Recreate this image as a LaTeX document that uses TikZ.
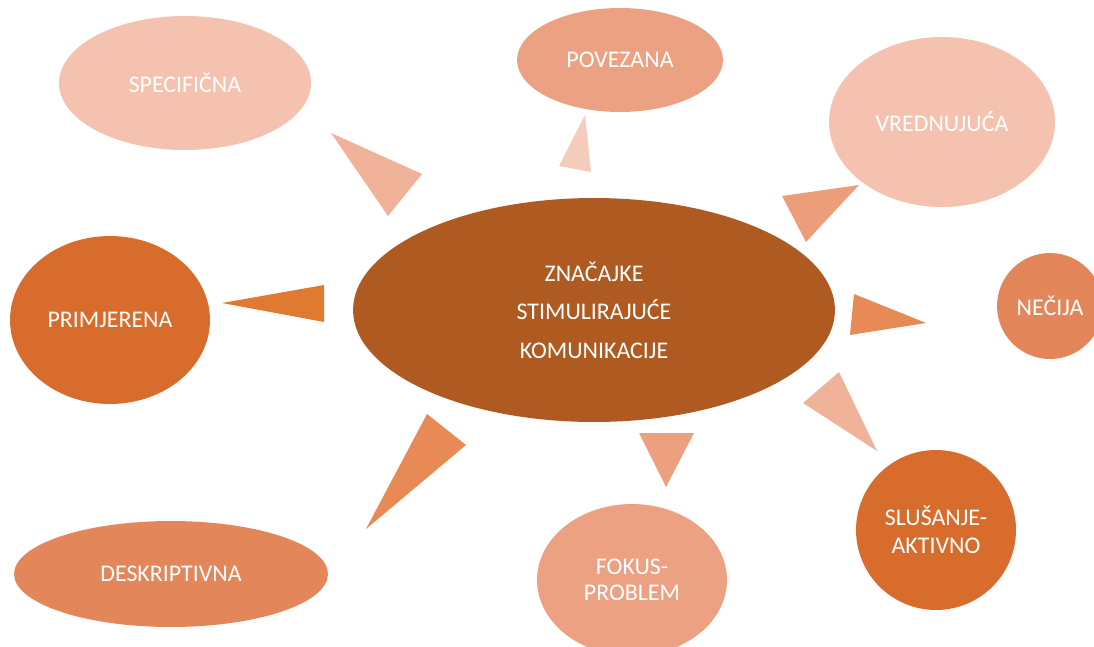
\documentclass[tikz,border=0pt]{standalone}
\usepackage{fontspec}
\setmainfont{Carlito}
\usetikzlibrary{shapes.geometric}
\definecolor{cPeach}{HTML}{F4C2AE}
\definecolor{cSalmon}{HTML}{ECA182}
\definecolor{cOrange}{HTML}{D86C2C}
\definecolor{cMid}{HTML}{E3875A}
\definecolor{cCenter}{HTML}{AE5A21}
\definecolor{tSpec}{HTML}{F0B39A}
\definecolor{tPov}{HTML}{F5CBBB}
\definecolor{tVred}{HTML}{EC9E7A}
\definecolor{tNec}{HTML}{E88A55}
\definecolor{tSlu}{HTML}{F0B39A}
\definecolor{tPrim}{HTML}{E07A30}
\definecolor{tDesk}{HTML}{E88A55}
\definecolor{tFok}{HTML}{ECA07D}
\tikzset{
  bubble/.style={ellipse, inner sep=0pt, text=white, font=\fontsize{13.6}{15.5}\selectfont, align=center},
  roundbubble/.style={circle, inner sep=0pt, text=white, font=\fontsize{13.6}{15.5}\selectfont, align=center}
}
\begin{document}
\begin{tikzpicture}[x=0.02cm,y=-0.02cm]
\useasboundingbox (0,0) rectangle (1094,646);
\clip (0,0) rectangle (1094,646);
% center
\node[bubble, fill=cCenter, minimum width=9.64cm, minimum height=4.48cm,
  font=\fontsize{13.6}{21.8}\selectfont] (center) at (594,310) {ZNAČAJKE\\STIMULIRAJUĆE\\KOMUNIKACIJE};
% outer bubbles
\node[bubble, fill=cPeach, minimum width=5.04cm, minimum height=2.68cm] (spec) at (185,83) {SPECIFIČNA};
\node[bubble, fill=cSalmon, minimum width=4.12cm, minimum height=2.08cm] (pov) at (620,60) {POVEZANA};
\node[bubble, fill=cPeach, minimum width=4.52cm, minimum height=3.40cm] (vred) at (942,122) {VREDNUJUĆA};
\node[bubble, fill=cOrange, minimum width=4.00cm, minimum height=3.36cm] (prim) at (110,320) {PRIMJERENA};
\node[roundbubble, fill=cMid, minimum size=2.12cm] (nec) at (1050,306) {NEČIJA};
\node[roundbubble, fill=cOrange, minimum size=3.20cm, font=\fontsize{13.6}{15.7}\selectfont] (slu) at (936,530) {SLUŠANJE-\\AKTIVNO};
\node[bubble, fill=cSalmon, minimum width=3.80cm, minimum height=3.04cm, font=\fontsize{13.6}{15}\selectfont] (fok) at (632,580) {FOKUS-\\PROBLEM};
\node[bubble, fill=cMid, minimum width=6.28cm, minimum height=2.12cm] (desk) at (171,574) {DESKRIPTIVNA};
% triangles
\coordinate (s1) at (331,133); \coordinate (s2) at (422,174); \coordinate (s3) at (388,216);
\fill[tSpec] (s1) -- (s2) -- (s3) -- cycle;
\coordinate (p1) at (585,115); \coordinate (p2) at (559,166); \coordinate (p3) at (591,172);
\fill[tPov] (p1) -- (p2) -- (p3) -- cycle;
\coordinate (v1) at (782,196); \coordinate (v2) at (859,185); \coordinate (v3) at (806,242);
\fill[tVred] (v1) -- (v2) -- (v3) -- cycle;
\coordinate (n1) at (854,294); \coordinate (n2) at (926,323); \coordinate (n3) at (850,335);
\fill[tNec] (n1) -- (n2) -- (n3) -- cycle;
\coordinate (l1) at (839,372); \coordinate (l2) at (803,403); \coordinate (l3) at (877,451);
\fill[tSlu] (l1) -- (l2) -- (l3) -- cycle;
\coordinate (r1) at (222,303); \coordinate (r2) at (324,285); \coordinate (r3) at (324,322);
\fill[tPrim] (r1) -- (r2) -- (r3) -- cycle;
\coordinate (d1) at (427,414); \coordinate (d2) at (466,445); \coordinate (d3) at (366,529);
\fill[tDesk] (d1) -- (d2) -- (d3) -- cycle;
\coordinate (f1) at (639,433); \coordinate (f2) at (694,433); \coordinate (f3) at (666,487);
\fill[tFok] (f1) -- (f2) -- (f3) -- cycle;
\end{tikzpicture}
\end{document}
